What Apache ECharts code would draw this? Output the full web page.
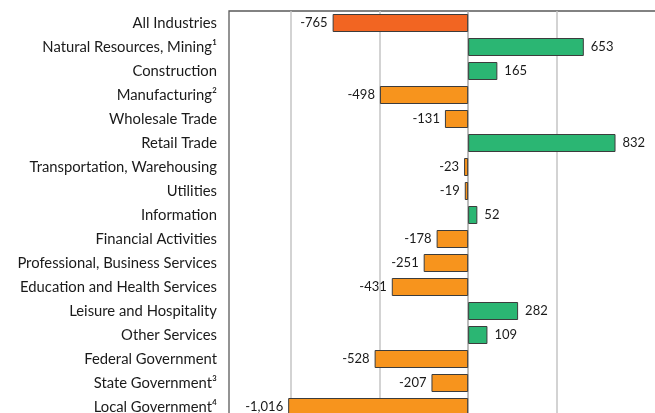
<!DOCTYPE html>
<html>
<head>
  <meta charset="utf-8" />
  <title>Employment change by industry</title>
  <style>
    html, body { margin: 0; padding: 0; background: #fff; }
    #chartBox { width: 655px; height: 413px; }
  </style>
</head>
<body>
  <div id="chartBox"></div>
  <script src="https://cdn.jsdelivr.net/npm/echarts@6/dist/echarts.min.js"></script>
  <script>
    var categories = [
      'All Industries', 'Natural Resources, Mining\u00b9', 'Construction', 'Manufacturing\u00b2',
      'Wholesale Trade', 'Retail Trade', 'Transportation, Warehousing', 'Utilities',
      'Information', 'Financial Activities', 'Professional, Business Services',
      'Education and Health Services', 'Leisure and Hospitality', 'Other Services',
      'Federal Government', 'State Government\u00b3', 'Local Government\u2074'
    ];
    var values = [-765, 653, 165, -498, -131, 832, -23, -19, 52, -178, -251, -431, 282, 109, -528, -207, -1016];

    var colTotal = '#f26522', colDown = '#f7941d', colUp = '#2bb673';
    var _font = 'Lato';

    function fmt(v) {
      return v.toLocaleString('en-US');
    }

    // 每根柱子单独设颜色和标签位置
    var data = values.map(function (v, i) {
      return {
        value: v,
        itemStyle: { color: i === 0 ? colTotal : (v < 0 ? colDown : colUp) },
        label: { position: v < 0 ? 'left' : 'right', distance: v < 0 ? 5 : 7 }
      };
    });

    var myChart = echarts.init(document.getElementById('chartBox'));
    myChart.setOption({
      animation: false,
      grid: {
        show: true,
        left: 229, top: 11, width: 434, height: 408,
        outerBoundsMode: 'none',
        borderColor: '#5a5a5a', borderWidth: 1.3,
        containLabel: false
      },
      xAxis: {
        type: 'value',
        min: -1350,
        max: 1100,
        axisLine: { show: false },
        axisTick: { show: false },
        axisLabel: { show: false },
        splitLine: {
          show: true,
          lineStyle: {
            width: 1.5,
            // -1350(边框), -1000, -500, 0, 500, 1000(隐藏), max
            color: ['rgba(0,0,0,0)', '#c4c4c4', '#c4c4c4', '#a6a6a6', '#c4c4c4', 'rgba(0,0,0,0)', 'rgba(0,0,0,0)']
          }
        }
      },
      yAxis: {
        type: 'category',
        inverse: true,
        data: categories,
        axisLine: { show: false, onZero: false },
        axisTick: { show: false },
        axisLabel: {
          margin: 12,
          color: '#1a1a1a',
          fontFamily: _font,
          fontSize: 14.8
        }
      },
      series: [{
        type: 'bar',
        barWidth: 18,
        data: data,
        itemStyle: { borderColor: '#3c3c3c', borderWidth: 1 },
        label: {
          show: true,
          color: '#1a1a1a',
          fontFamily: _font,
          fontSize: 13,
          formatter: function (p) { return fmt(p.value); }
        }
      }]
    });
  </script>
</body>
</html>
